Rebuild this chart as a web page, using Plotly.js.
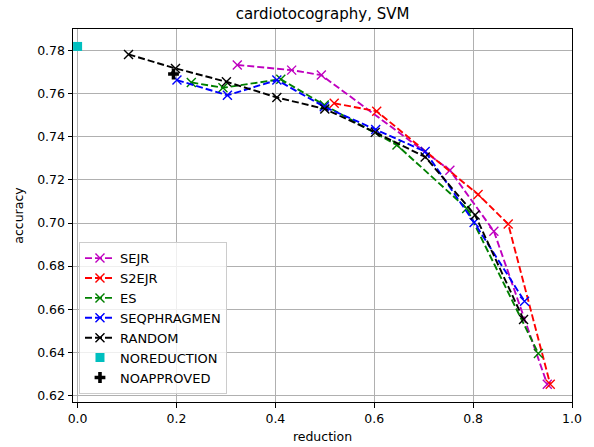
<!DOCTYPE html>
<html>
<head>
<meta charset="utf-8">
<script src="https://cdn.plot.ly/plotly-3.0.1.min.js"></script>
<style>html,body{margin:0;padding:0;background:#fff;}#chart{width:594px;height:447px;}</style>
</head>
<body>
<div id="chart"></div>
<script>
// Data
const sejrX = [0.323, 0.433, 0.493, 0.753, 0.842, 0.950];
const sejrY = [0.7734, 0.7710, 0.7687, 0.7245, 0.6962, 0.6251];

const s2ejrX = [0.519, 0.605, 0.810, 0.871, 0.956];
const s2ejrY = [0.7556, 0.7519, 0.7133, 0.6995, 0.6251];

const esX = [0.230, 0.294, 0.411, 0.499, 0.646, 0.787, 0.932];
const esY = [0.7653, 0.7628, 0.7668, 0.7548, 0.7362, 0.7068, 0.6394];

const seqX = [0.201, 0.303, 0.403, 0.499, 0.603, 0.703, 0.802, 0.904];
const seqY = [0.7664, 0.7593, 0.7664, 0.7540, 0.7434, 0.7332, 0.7003, 0.6637];

const randX = [0.103, 0.198, 0.301, 0.403, 0.500, 0.602, 0.703, 0.804, 0.902];
const randY = [0.7783, 0.7718, 0.7656, 0.7583, 0.7530, 0.7421, 0.7307, 0.7037, 0.6552];

const noRedX = [0.0];
const noRedY = [0.782];

const noAppX = [0.194];
const noAppY = [0.7692];

const xTicks = [0.0, 0.2, 0.4, 0.6, 0.8, 1.0];
const yTicks = [0.62, 0.64, 0.66, 0.68, 0.70, 0.72, 0.74, 0.76, 0.78];

function lineTrace(name, x, y, color) {
  return {
    x: x, y: y, name: name, type: 'scatter', mode: 'lines+markers',
    line: {color: color, width: 1.9, dash: '7px,3px'},
    marker: {symbol: 'x-thin', size: 9, color: color, line: {color: color, width: 1.4}}
  };
}

const traces = [
  lineTrace('SEJR', sejrX, sejrY, '#bf00bf'),
  lineTrace('S2EJR', s2ejrX, s2ejrY, '#ff0000'),
  lineTrace('ES', esX, esY, '#008000'),
  lineTrace('SEQPHRAGMEN', seqX, seqY, '#0000ff'),
  lineTrace('RANDOM', randX, randY, '#000000'),
  {x: noRedX, y: noRedY, name: 'NOREDUCTION', type: 'scatter', mode: 'markers',
   marker: {symbol: 'square', size: 9, color: '#00bfbf'}},
  {x: noAppX, y: noAppY, name: 'NOAPPROVED', type: 'scatter', mode: 'markers',
   marker: {symbol: 'cross', size: 9, color: '#000000'}}
];

const font = {family: 'DejaVu Sans, sans-serif', size: 12.5, color: '#000'};

const layout = {
  width: 594, height: 447,
  margin: {l: 73, r: 22, t: 29, b: 45},
  paper_bgcolor: '#fff', plot_bgcolor: '#fff',
  font: font,
  title: {text: 'cardiotocography, SVM', font: {family: 'DejaVu Sans, sans-serif', size: 15, color: '#000'},
          x: 0.543, xanchor: 'center', y: 0.97, yanchor: 'middle'},
  xaxis: {
    range: [-0.0093, 1.0], tickvals: xTicks, ticktext: xTicks.map(v => v.toFixed(1)),
    showgrid: true, gridcolor: '#b0b0b0', gridwidth: 1,
    showline: true, mirror: true, linecolor: '#000', linewidth: 1,
    ticks: 'outside', ticklen: 4.5, tickcolor: '#000', zeroline: false,
    title: {text: 'reduction', font: font, standoff: 7}
  },
  yaxis: {
    range: [0.6169, 0.7901], tickvals: yTicks, ticktext: yTicks.map(v => v.toFixed(2)),
    showgrid: true, gridcolor: '#b0b0b0', gridwidth: 1,
    showline: true, mirror: true, linecolor: '#000', linewidth: 1,
    ticks: 'outside', ticklen: 4.5, tickcolor: '#000', zeroline: false,
    title: {text: 'accuracy', font: font, standoff: 10}
  },
  showlegend: true,
  legend: {
    x: 0.012, y: 0.021, xanchor: 'left', yanchor: 'bottom',
    bgcolor: 'rgba(255,255,255,0.8)', bordercolor: '#cccccc', borderwidth: 1,
    font: {family: 'DejaVu Sans, sans-serif', size: 13, color: '#000'},
    tracegroupgap: 0, itemwidth: 30
  }
};

Plotly.newPlot('chart', traces, layout, {displayModeBar: false, staticPlot: true});
</script>
</body>
</html>
